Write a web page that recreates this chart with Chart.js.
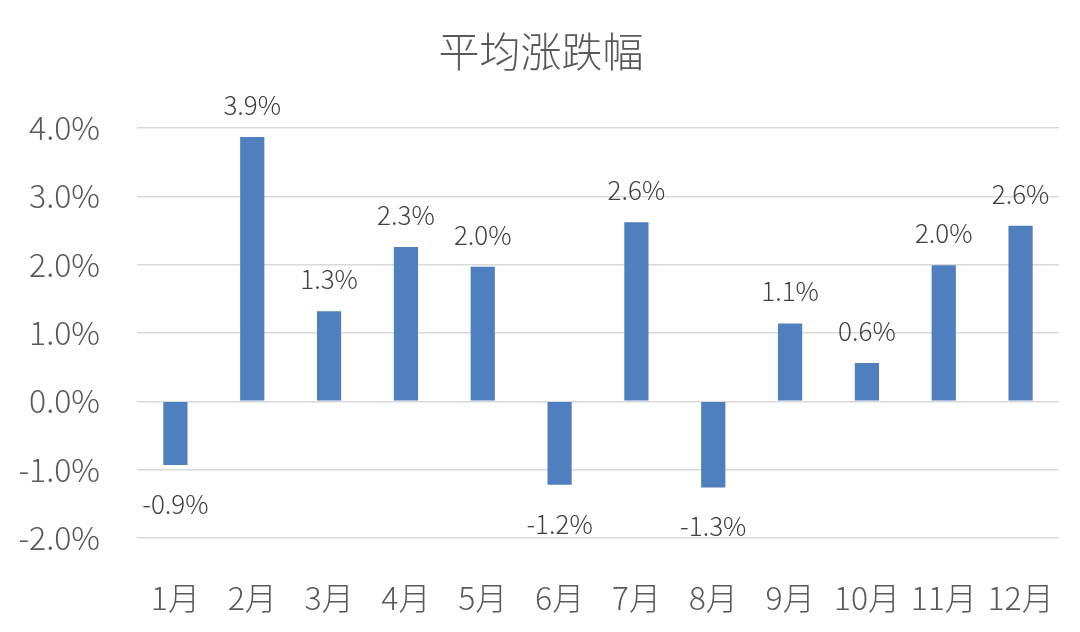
<!DOCTYPE html>
<html>
<head>
<meta charset="utf-8">
<script src="https://cdn.jsdelivr.net/npm/chart.js@4.4.0/dist/chart.umd.min.js"></script>
<style>
html,body{margin:0;padding:0;background:#fff;}
#wrap{width:1080px;height:632px;position:relative;}
</style>
</head>
<body>
<div id="wrap"><canvas id="c"></canvas></div>
<script>
const titleText = '平均涨跌幅';
const categories = ['1月','2月','3月','4月','5月','6月','7月','8月','9月','10月','11月','12月'];
const values = [-0.93, 3.87, 1.32, 2.26, 1.97, -1.22, 2.62, -1.26, 1.14, 0.56, 1.99, 2.57];
const yTicks = [-2, -1, 0, 1, 2, 3, 4];

const FONT = '"Noto Sans CJK SC", "Noto Sans", sans-serif';

const labelPlugin = {
  id: 'barLabels',
  afterDatasetsDraw(chart) {
    const ctx = chart.ctx;
    const meta = chart.getDatasetMeta(0);
    ctx.save();
    ctx.font = '300 26px ' + FONT;
    ctx.fillStyle = '#404040';
    ctx.textAlign = 'center';
    ctx.textBaseline = 'middle';
    meta.data.forEach((bar, i) => {
      const v = values[i];
      const txt = v.toFixed(1) + '%';
      const y = v >= 0 ? bar.y - 32 : bar.y + 39;
      ctx.fillText(txt, bar.x, y);
    });
    ctx.restore();
  }
};

const titlePlugin = {
  id: 'centerTitle',
  afterDraw(chart) {
    const ctx = chart.ctx;
    ctx.save();
    ctx.font = '300 41px ' + FONT;
    ctx.fillStyle = '#595959';
    ctx.textAlign = 'center';
    ctx.textBaseline = 'middle';
    ctx.fillText(titleText, chart.width / 2 + 1, 51);
    ctx.restore();
  }
};

new Chart(document.getElementById('c'), {
  type: 'bar',
  data: {
    labels: categories,
    datasets: [{
      data: values,
      backgroundColor: '#4f7fbe',
      borderWidth: 0,
      barPercentage: 0.63,
      categoryPercentage: 0.5
    }]
  },
  options: {
    responsive: true,
    maintainAspectRatio: false,
    animation: false,
    devicePixelRatio: 1,
    layout: { padding: { left: 0, right: 21, top: 128, bottom: 15 } },
    plugins: {
      legend: { display: false },
      tooltip: { enabled: false },
      title: { display: false }
    },
    scales: {
      x: {
        afterFit(scale) {
          scale.height = 79;
          scale.paddingLeft = 0; scale.paddingRight = 0;
          scale.paddingTop = 0; scale.paddingBottom = 0;
        },
        grid: { display: false, drawTicks: false },
        border: { display: false },
        ticks: {
          color: '#595959',
          font: { family: FONT, size: 32, weight: '300' },
          padding: 41,
          maxRotation: 0,
          autoSkip: false
        }
      },
      y: {
        min: -2,
        max: 4,
        afterFit(scale) {
          scale.width = 137;
          scale.paddingTop = 0; scale.paddingBottom = 0;
        },
        afterBuildTicks(scale) { scale.ticks = yTicks.map(v => ({ value: v })); },
        grid: { color: '#d9d9d9', lineWidth: 1.5, drawTicks: false },
        border: { display: false },
        ticks: {
          color: '#595959',
          font: { family: FONT, size: 32, weight: '300' },
          padding: 37,
          callback: v => Number(v).toFixed(1) + '%'
        }
      }
    }
  },
  plugins: [labelPlugin, titlePlugin]
});
</script>
</body>
</html>
